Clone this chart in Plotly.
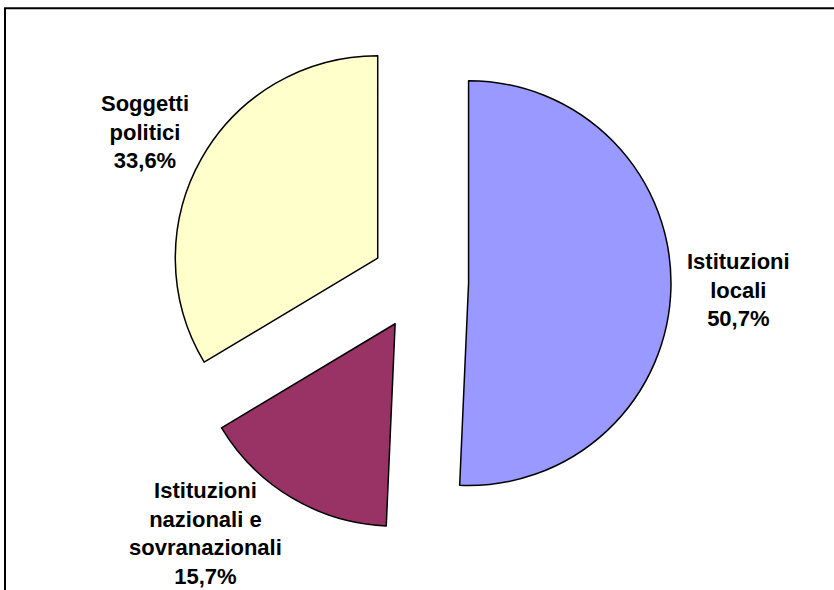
import plotly.graph_objects as go

categories = ["Istituzioni locali", "Istituzioni nazionali e sovranazionali", "Soggetti politici"]
label_lines = [["Istituzioni", "locali"], ["Istituzioni", "nazionali e", "sovranazionali"], ["Soggetti", "politici"]]
values = [50.7, 15.7, 33.6]
colors = ["#9999FF", "#993366", "#FFFFCC"]

W, H = 834, 590
# label anchor positions (pixels from top-left)
label_px = [(738, 290), (205, 533), (145, 132)]

cx, cy, half = 420, 282, 251

fig = go.Figure(go.Pie(
    labels=categories,
    values=values,
    sort=False,
    direction="clockwise",
    rotation=0,
    pull=[0.24, 0.24, 0.24],
    marker=dict(colors=colors, line=dict(color="black", width=1.5)),
    textinfo="none",
    hoverinfo="label+percent",
    showlegend=False,
    domain=dict(x=[(cx - half) / W, (cx + half) / W], y=[1 - (cy + half) / H, 1 - (cy - half) / H]),
))

annotations = []
for lines, v, (px, py) in zip(label_lines, values, label_px):
    txt = "<br>".join(f"<b>{l}</b>" for l in lines) + f"<br><b>{str(v).replace('.', ',')}%</b>"
    annotations.append(dict(x=px / W, y=1 - py / H, xref="paper", yref="paper", text=txt, showarrow=False,
                            xanchor="center", yanchor="middle", align="center",
                            font=dict(family="Liberation Sans, Arial, sans-serif", size=22, color="black")))

fig.update_layout(
    width=W, height=H,
    margin=dict(l=0, r=0, t=0, b=0),
    paper_bgcolor="white", plot_bgcolor="white",
    annotations=annotations,
    shapes=[dict(type="rect", xref="paper", yref="paper", x0=5 / W, x1=1.05, y0=-0.1, y1=1 - 8.3 / H,
                 line=dict(color="black", width=2), fillcolor="rgba(0,0,0,0)")],
)

fig.write_html("out.html", config={"displayModeBar": False},
               post_script="document.body.style.margin='0px';document.body.style.overflow='hidden';")
